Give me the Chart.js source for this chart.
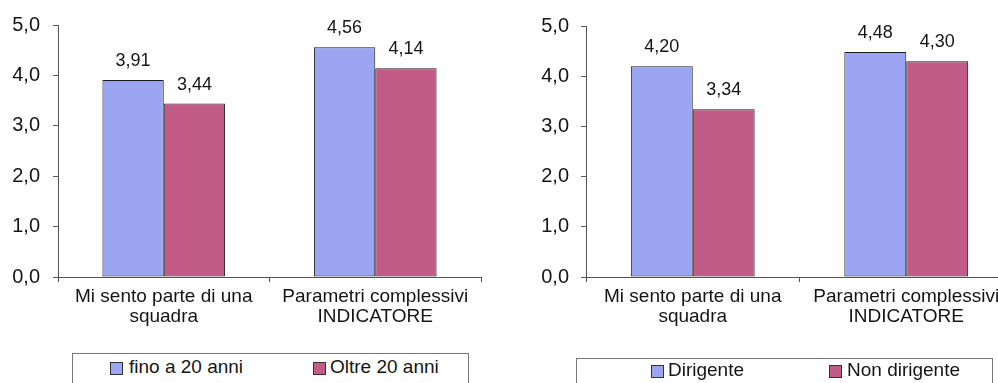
<!DOCTYPE html>
<html lang="it">
<head>
<meta charset="utf-8">
<title>Mi sento parte di una squadra</title>
<script src="https://cdn.jsdelivr.net/npm/chart.js@4/dist/chart.umd.min.js"></script>
<style>
  html, body { margin: 0; padding: 0; background: #fff; }
  body { width: 998px; height: 383px; overflow: hidden; position: relative; font-family: "Liberation Sans", Arial, sans-serif; }
  canvas { position: absolute; top: 0; }
  #c1 { left: 0; }
  #c2 { left: 500px; }
  .legend { position: absolute; border: 1px solid #777; height: 40px; box-sizing: border-box; background: #fff; }
  .legend .mk { position: absolute; width: 11px; height: 11px; border: 1px solid #333; }
  .legend .tx { position: absolute; font-size: 19px; line-height: 20px; color: #151515; white-space: nowrap; }
</style>
</head>
<body>
<canvas id="c1" width="490" height="383"></canvas>
<canvas id="c2" width="520" height="383"></canvas>
<div class="legend" id="lg1"></div>
<div class="legend" id="lg2"></div>

<script>
// Categories shared by both panels
const categories = [
  ["Mi sento parte di una", "squadra"],
  ["Parametri complessivi", "INDICATORE"]
];

// Left panel: seniority
const seniorityLabels = ["fino a 20 anni", "Oltre 20 anni"];
const finoA20Anni = [3.91, 4.56];
const oltre20Anni = [3.44, 4.14];

// Right panel: role
const roleLabels = ["Dirigente", "Non dirigente"];
const dirigente = [4.20, 4.48];
const nonDirigente = [3.34, 4.30];

// Value axis
const yMin = 0;
const yMax = 5;
const yStep = 1;

const BLUE = "#9ca5f2";
const RED = "#c25c86";
const INK = "#151515";
const EDGE = "#1a1a1a";
const AXIS = "#555";

Chart.defaults.font.family = "'Liberation Sans', Arial, sans-serif";
Chart.defaults.color = INK;

const comma = (v, d) => v.toFixed(d).replace(".", ",");

// Writes each bar's value above it
const valueLabels = {
  id: "valueLabels",
  afterDatasetsDraw(chart) {
    const ctx = chart.ctx;
    ctx.save();
    ctx.font = "18px 'Liberation Sans', Arial, sans-serif";
    ctx.fillStyle = INK;
    ctx.textAlign = "center";
    ctx.textBaseline = "alphabetic";
    chart.data.datasets.forEach((ds, i) => {
      chart.getDatasetMeta(i).data.forEach((bar, j) => {
        ctx.fillText(comma(ds.data[j], 2), bar.x, bar.y - 14);
      });
    });
    ctx.restore();
  }
};

function makeChart(id, labels, seriesA, seriesB, axisWidth, tickPad, padTop, padRight) {
  return new Chart(document.getElementById(id), {
    type: "bar",
    data: {
      labels: categories,
      datasets: [
        { label: labels[0], data: seriesA, backgroundColor: BLUE, borderColor: EDGE, borderWidth: 1, borderSkipped: false },
        { label: labels[1], data: seriesB, backgroundColor: RED, borderColor: EDGE, borderWidth: 1, borderSkipped: false }
      ]
    },
    options: {
      responsive: false,
      animation: false,
      devicePixelRatio: 1,
      layout: { padding: { top: padTop, right: padRight, bottom: 46, left: 0 } },
      plugins: { legend: { display: false }, tooltip: { enabled: false } },
      datasets: { bar: { categoryPercentage: 0.58, barPercentage: 1 } },
      scales: {
        x: {
          grid: { drawOnChartArea: false, drawTicks: true, tickLength: 5, color: AXIS, offset: true },
          border: { color: AXIS, width: 1 },
          ticks: { font: { size: 19, lineHeight: 1.05 }, color: INK, padding: 5, maxRotation: 0, autoSkip: false },
          afterFit(scale) { scale.height = 60; }
        },
        y: {
          min: yMin,
          max: yMax,
          grid: { drawOnChartArea: false, drawTicks: true, tickLength: 5, color: AXIS },
          border: { color: AXIS, width: 1 },
          ticks: { stepSize: yStep, font: { size: 20 }, color: INK, padding: tickPad, callback: v => comma(v, 1) },
          afterFit(scale) { scale.width = axisWidth; }
        }
      }
    },
    plugins: [valueLabels]
  });
}

makeChart("c1", seniorityLabels, finoA20Anni, oltre20Anni, 58, 13, 21, 9);
makeChart("c2", roleLabels, dirigente, nonDirigente, 86, 12, 26, 7);

// Boxed legends under each panel
function buildLegend(id, box, labels, items) {
  const el = document.getElementById(id);
  el.style.left = box.left + "px";
  el.style.top = box.top + "px";
  el.style.width = box.width + "px";
  const colors = [BLUE, RED];
  labels.forEach((text, i) => {
    const mk = document.createElement("span");
    mk.className = "mk";
    mk.style.background = colors[i];
    mk.style.left = items[i].marker + "px";
    mk.style.top = box.mid - 6 + "px";
    const tx = document.createElement("span");
    tx.className = "tx";
    tx.textContent = text;
    tx.style.left = items[i].text + "px";
    tx.style.top = box.mid - 11 + "px";
    el.appendChild(mk);
    el.appendChild(tx);
  });
}

buildLegend("lg1", { left: 72, top: 353, width: 397, mid: 14 }, seniorityLabels,
  [{ marker: 37, text: 56 }, { marker: 240, text: 257 }]);
buildLegend("lg2", { left: 576, top: 358, width: 417, mid: 12 }, roleLabels,
  [{ marker: 74, text: 91 }, { marker: 252, text: 270 }]);
</script>
</body>
</html>
